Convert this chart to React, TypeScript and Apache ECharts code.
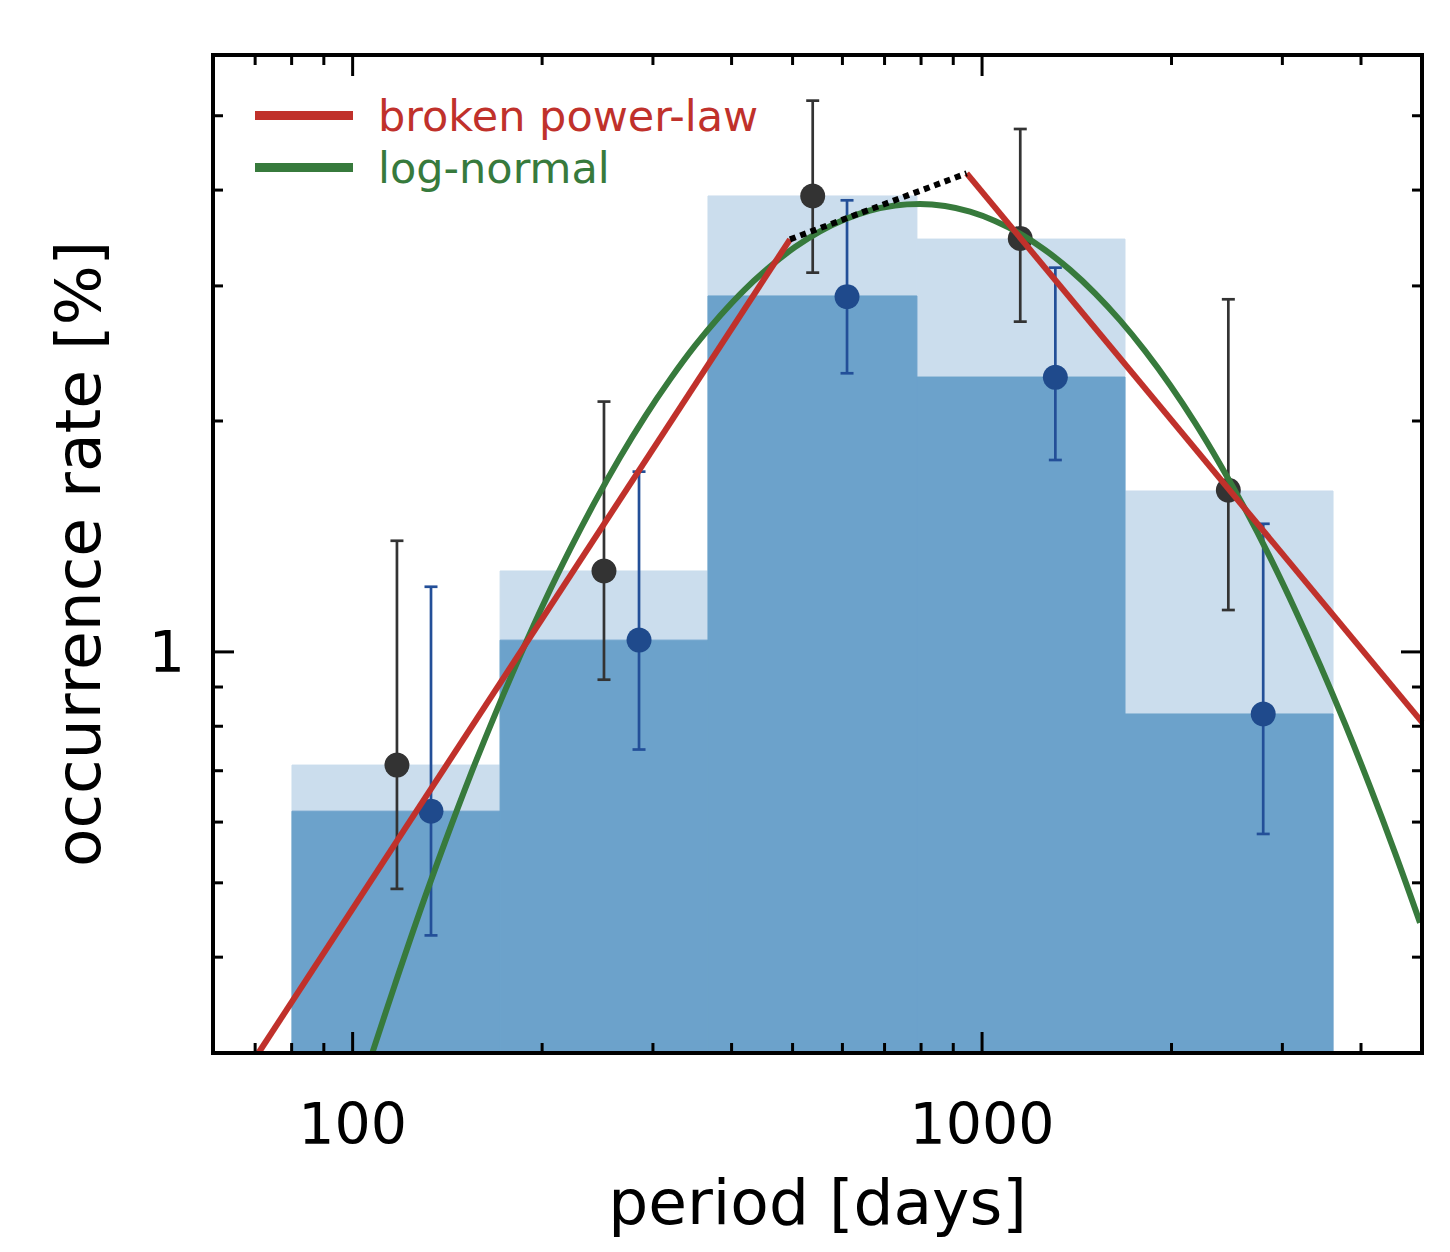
import React, { useEffect, useRef } from "react";
import * as echarts from "echarts";

// ---------- data ----------
const periodRange = [60, 5000];
const rateRange = [0.3, 6];

const binEdges = [80.1, 171.5, 366.9, 788.0, 1687, 3611];
const totalRate = [0.712, 1.275, 3.93, 3.453, 1.621];
const lowerRate = [0.62, 1.036, 2.911, 2.282, 0.83];

const blackPeriod = [117.6, 250.8, 538.2, 1150, 2462];
const blackRate = [0.712, 1.275, 3.93, 3.46, 1.625];
const blackLow = [0.491, 0.92, 3.122, 2.695, 1.134];
const blackHigh = [1.396, 2.12, 5.232, 4.805, 2.882];

const bluePeriod = [133.2, 285.1, 610.2, 1307.5, 2797];
const blueRate = [0.62, 1.036, 2.905, 2.28, 0.83];
const blueLow = [0.427, 0.746, 2.308, 1.779, 0.579];
const blueHigh = [1.216, 1.718, 3.879, 3.169, 1.469];

const powerLawLowPeriod = [70.85, 495.3];
const powerLawLowRate = [0.3, 3.45];
const powerLawHighPeriod = [945.4, 5000];
const powerLawHighRate = [4.206, 0.81];
const bridgePeriod = [495.3, 945.4];
const bridgeRate = [3.45, 4.206];

const logNormalPeriod = [
  107.3, 116.8, 127.9, 140.2, 153.6, 168.4, 184.5, 202.1, 221.5, 242.7, 266.0,
  291.4, 319.4, 349.9, 383.5, 420.1, 460.5, 504.5, 552.8, 605.8, 663.8, 727.4,
  796.7, 873.4, 957.0, 1048.6, 1149, 1259, 1380, 1512, 1657, 1815, 1989, 2179,
  2388, 2617, 2868, 3142, 3443, 3773, 4134, 4530, 4964,
];
const logNormalRate = [
  0.299, 0.3689, 0.4589, 0.565, 0.6884, 0.8292, 0.9884, 1.166, 1.36, 1.57, 1.794,
  2.027, 2.266, 2.507, 2.743, 2.97, 3.18, 3.371, 3.534, 3.665, 3.762, 3.82,
  3.837, 3.813, 3.749, 3.646, 3.51, 3.342, 3.148, 2.934, 2.705, 2.468, 2.228, 1.99,
  1.757, 1.536, 1.328, 1.136, 0.9618, 0.8055, 0.6673, 0.547, 0.4436,
];

const xMajorTicks = [100, 1000];
const xMinorTicks = [70, 80, 90, 200, 300, 400, 500, 600, 700, 800, 900, 2000, 3000, 4000];
const yMajorTicks = [1];
const yMinorTicks = [0.4, 0.5, 0.6, 0.7, 0.8, 0.9, 2, 3, 4, 5];
const xTickLabels = [100, 1000];
const yTickLabels = [1];

const seriesNames = ["broken power-law", "log-normal"];
const xTitle = "period [days]";
const yTitle = "occurrence rate [%]";

// ---------- styles ----------
const FONT = "DejaVu Sans";
const RED = "#c0312b";
const GREEN = "#377a3c";
const DARK_BAR = "#6ca2cb";
const LIGHT_BAR = "#cbdded";
const BLACK_PT = "#333333";
const BLUE_PT = "#1f4a8c";
const BLUE_BAR = "#234f98";

const zip = (a: number[], b: number[]) => a.map((v, i) => [v, b[i]]);

const matchLabel = (list: number[]) => (v: number) => {
  const hit = list.find((t) => Math.abs(t - v) / t < 1e-6);
  return hit !== undefined ? String(hit) : "";
};

const errorBarRender = (color: string) => (params: any, api: any) => {
  const x = api.value(0);
  const lo = api.coord([x, api.value(1)]);
  const hi = api.coord([x, api.value(2)]);
  const half = 6.5;
  const style = { stroke: color, lineWidth: 2.7 };
  return {
    type: "group",
    children: [
      { type: "line", shape: { x1: lo[0], y1: lo[1], x2: hi[0], y2: hi[1] }, style },
      { type: "line", shape: { x1: lo[0] - half, y1: lo[1], x2: lo[0] + half, y2: lo[1] }, style },
      { type: "line", shape: { x1: hi[0] - half, y1: hi[1], x2: hi[0] + half, y2: hi[1] }, style },
    ],
  };
};

const barRender = (color: string) => (params: any, api: any) => {
  const p0 = api.coord([api.value(0), api.value(2)]);
  const p1 = api.coord([api.value(1), rateRange[0]]);
  return {
    type: "rect",
    shape: { x: p0[0], y: p0[1], width: p1[0] - p0[0], height: p1[1] - p0[1] },
    style: { fill: color, stroke: color, lineWidth: 1 },
  };
};

const tickRender = (params: any, api: any) => {
  const major = api.value(2) === 1;
  const isX = api.value(3) === 0;
  const len = major ? 21 : 10;
  const style = { stroke: "#000", lineWidth: 3 };
  if (isX) {
    const v = api.value(0);
    const b = api.coord([v, rateRange[0]]);
    const t = api.coord([v, rateRange[1]]);
    return {
      type: "group",
      children: [
        { type: "line", shape: { x1: b[0], y1: b[1], x2: b[0], y2: b[1] - len }, style },
        { type: "line", shape: { x1: t[0], y1: t[1], x2: t[0], y2: t[1] + len }, style },
      ],
    };
  }
  const v = api.value(1);
  const l = api.coord([periodRange[0], v]);
  const r = api.coord([periodRange[1], v]);
  return {
    type: "group",
    children: [
      { type: "line", shape: { x1: l[0], y1: l[1], x2: l[0] + len, y2: l[1] }, style },
      { type: "line", shape: { x1: r[0], y1: r[1], x2: r[0] - len, y2: r[1] }, style },
    ],
  };
};

const frameLine = { show: true, lineStyle: { color: "#000", width: 4, cap: "square" } };

export default function App() {
  const ref = useRef<HTMLDivElement>(null);

  useEffect(() => {
    if (!ref.current) return;
    const chart = echarts.init(ref.current, null, { renderer: "svg" });

    const binData = totalRate.map((v, i) => [binEdges[i], binEdges[i + 1], v]);
    const lowerData = lowerRate.map((v, i) => [binEdges[i], binEdges[i + 1], v]);
    const blackErr = blackPeriod.map((p, i) => [p, blackLow[i], blackHigh[i]]);
    const blueErr = bluePeriod.map((p, i) => [p, blueLow[i], blueHigh[i]]);
    const tickData = [
      ...xMajorTicks.map((v) => [v, 1, 1, 0]),
      ...xMinorTicks.map((v) => [v, 1, 0, 0]),
      ...yMajorTicks.map((v) => [1000, v, 1, 1]),
      ...yMinorTicks.map((v) => [1000, v, 0, 1]),
    ];

    const option: any = {
      animation: false,
      backgroundColor: "#fff",
      grid: { left: 213, top: 55, right: 28, bottom: 199, containLabel: false, outerBoundsMode: "none" },
      legend: {
        left: 255,
        top: 94,
        orient: "vertical",
        padding: 0,
        itemGap: 9,
        itemWidth: 98,
        itemHeight: 9,
        icon: "rect",
        selectedMode: false,
        itemStyle: { borderWidth: 0 },
        textStyle: { fontFamily: FONT, fontSize: 43, padding: [0, 0, 0, 20] },
        data: [
          { name: seriesNames[0], textStyle: { color: RED } },
          { name: seriesNames[1], textStyle: { color: GREEN } },
        ],
      },
      xAxis: [
        {
          type: "log",
          logBase: 10,
          min: periodRange[0],
          max: periodRange[1],
          position: "bottom",
          z: 10,
          axisLine: frameLine,
          axisTick: { show: false },
          minorTick: { show: false },
          splitLine: { show: false },
          axisLabel: {
            formatter: matchLabel(xTickLabels),
            fontFamily: FONT,
            fontSize: 57,
            color: "#000",
            margin: 42,
          },
          name: xTitle,
          nameLocation: "middle",
          nameGap: 118,
          nameTextStyle: { fontFamily: FONT, fontSize: 63, color: "#000" },
        },
        {
          type: "log",
          logBase: 10,
          min: periodRange[0],
          max: periodRange[1],
          position: "top",
          z: 10,
          axisLine: frameLine,
          axisTick: { show: false },
          splitLine: { show: false },
          axisLabel: { show: false },
        },
      ],
      yAxis: [
        {
          type: "log",
          logBase: 10,
          min: rateRange[0],
          max: rateRange[1],
          position: "left",
          z: 10,
          axisLine: frameLine,
          axisTick: { show: false },
          splitLine: { show: false },
          axisLabel: {
            formatter: matchLabel(yTickLabels),
            fontFamily: FONT,
            fontSize: 57,
            color: "#000",
            margin: 28,
          },
          name: yTitle,
          nameLocation: "middle",
          nameGap: 103,
          nameTextStyle: { fontFamily: FONT, fontSize: 63, color: "#000" },
        },
        {
          type: "log",
          logBase: 10,
          min: rateRange[0],
          max: rateRange[1],
          position: "right",
          z: 10,
          axisLine: frameLine,
          axisTick: { show: false },
          splitLine: { show: false },
          axisLabel: { show: false },
        },
      ],
      series: [
        {
          type: "custom",
          name: "total",
          coordinateSystem: "cartesian2d",
          renderItem: barRender(LIGHT_BAR),
          encode: { x: [0, 1], y: 2 },
          data: binData,
          silent: true,
        },
        {
          type: "custom",
          name: "lower",
          coordinateSystem: "cartesian2d",
          renderItem: barRender(DARK_BAR),
          encode: { x: [0, 1], y: 2 },
          data: lowerData,
          silent: true,
        },
        {
          type: "line",
          name: seriesNames[1],
          data: zip(logNormalPeriod, logNormalRate),
          smooth: 0.4,
          symbol: "none",
          color: GREEN,
          lineStyle: { color: GREEN, width: 6, opacity: 1 },
          silent: true,
        },
        {
          type: "line",
          name: seriesNames[0],
          data: zip(powerLawLowPeriod, powerLawLowRate),
          symbol: "none",
          color: RED,
          lineStyle: { color: RED, width: 6, opacity: 1 },
          silent: true,
        },
        {
          type: "line",
          name: seriesNames[0],
          data: zip(powerLawHighPeriod, powerLawHighRate),
          symbol: "none",
          color: RED,
          lineStyle: { color: RED, width: 6, opacity: 1 },
          silent: true,
        },
        {
          type: "line",
          name: "break",
          data: zip(bridgePeriod, bridgeRate),
          symbol: "none",
          color: "#000",
          lineStyle: { color: "#000", width: 6, type: [6, 5], opacity: 1 },
          silent: true,
        },
        {
          type: "custom",
          name: "black errors",
          coordinateSystem: "cartesian2d",
          renderItem: errorBarRender(BLACK_PT),
          encode: { x: 0, y: [1, 2] },
          data: blackErr,
          silent: true,
        },
        {
          type: "scatter",
          name: "black points",
          data: zip(blackPeriod, blackRate),
          symbolSize: 25,
          itemStyle: { color: BLACK_PT, opacity: 1 },
          silent: true,
        },
        {
          type: "custom",
          name: "blue errors",
          coordinateSystem: "cartesian2d",
          renderItem: errorBarRender(BLUE_BAR),
          encode: { x: 0, y: [1, 2] },
          data: blueErr,
          silent: true,
        },
        {
          type: "scatter",
          name: "blue points",
          data: zip(bluePeriod, blueRate),
          symbolSize: 25,
          itemStyle: { color: BLUE_PT, opacity: 1 },
          silent: true,
        },
        {
          type: "custom",
          name: "ticks",
          coordinateSystem: "cartesian2d",
          renderItem: tickRender,
          encode: { x: 0, y: 1 },
          data: tickData,
          silent: true,
          z: 5,
        },
      ],
    };

    chart.setOption(option);
    return () => chart.dispose();
  }, []);

  return (
    <div
      ref={ref}
      style={{ position: "absolute", left: 0, top: 0, width: 1450, height: 1252, background: "#fff" }}
    />
  );
}
